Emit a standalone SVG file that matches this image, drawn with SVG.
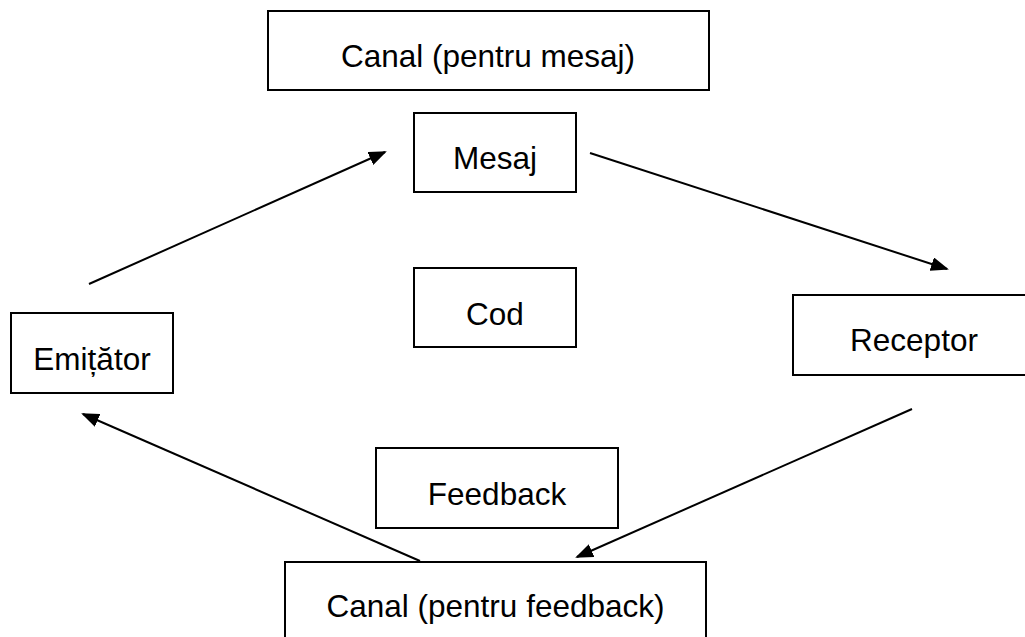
<svg xmlns="http://www.w3.org/2000/svg" width="1025" height="637" viewBox="0 0 1025 637">
  <style>
    .box { fill: #ffffff; stroke: #000000; stroke-width: 2; }
    .lbl { font-family: "Liberation Sans", Arial, sans-serif; font-size: 31.5px; fill: #000000; text-anchor: middle; }
    .link { stroke: #000000; stroke-width: 2; fill: none; marker-end: url(#arrow); }
  </style>
  <defs>
    <marker id="arrow" markerWidth="9" markerHeight="7" refX="8" refY="3.5" orient="auto" markerUnits="strokeWidth">
      <path d="M0,0 L9,3.5 L0,7 Z" fill="#000000"/>
    </marker>
  </defs>
  <rect width="1025" height="637" fill="#ffffff"/>

  <g id="canal-mesaj">
    <rect class="box" x="268" y="11" width="441" height="79"/>
    <text class="lbl" x="488" y="67">Canal (pentru mesaj)</text>
  </g>
  <g id="mesaj">
    <rect class="box" x="414" y="113" width="162" height="79"/>
    <text class="lbl" x="495" y="169">Mesaj</text>
  </g>
  <g id="cod">
    <rect class="box" x="414" y="268" width="162" height="79"/>
    <text class="lbl" x="495" y="325">Cod</text>
  </g>
  <g id="emitator">
    <rect class="box" x="11" y="313" width="162" height="80"/>
    <text class="lbl" x="92" y="370">Emițător</text>
  </g>
  <g id="receptor">
    <rect class="box" x="793" y="295" width="250" height="80"/>
    <text class="lbl" x="914" y="351">Receptor</text>
  </g>
  <g id="feedback">
    <rect class="box" x="376" y="448" width="242" height="80"/>
    <text class="lbl" x="497" y="505">Feedback</text>
  </g>
  <g id="canal-feedback">
    <rect class="box" x="285" y="562" width="421" height="100"/>
    <text class="lbl" x="495.5" y="617">Canal (pentru feedback)</text>
  </g>

  <g id="connectors">
    <line class="link" x1="89" y1="284" x2="385" y2="152"/>
    <line class="link" x1="590" y1="153" x2="947" y2="269"/>
    <line class="link" x1="912" y1="409" x2="577" y2="557"/>
    <line class="link" x1="420" y1="561" x2="83" y2="414"/>
  </g>
</svg>
